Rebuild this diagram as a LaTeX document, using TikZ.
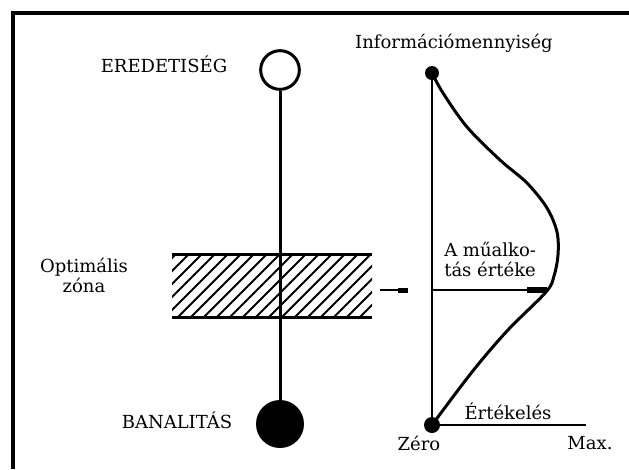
\documentclass[tikz,border=0pt]{standalone}
\usepackage{fontspec}
\setmainfont{DejaVu Serif}
\begin{document}
\begin{tikzpicture}[x=0.75pt,y=-0.75pt,
  lab/.style={font=\fontsize{13.5}{15}\selectfont, inner sep=0pt},
  thickline/.style={line width=2.25pt},
  thinline/.style={line width=1.5pt},
  dotnode/.style={circle, fill=black, inner sep=0pt}]
\useasboundingbox (0,0) rectangle (629,469);
% frame (top and left)
\draw[line width=3pt, line join=miter] (13,469) -- (13,12.5) -- (629,12.5);

% hatched optimal zone
\begin{scope}
  \clip (172,254) rectangle (372,317);
  \foreach \x in {100,113,...,380}
    \draw[line width=1.4pt] (\x,317) -- (\x+63,254);
\end{scope}
\draw[thickline] (172,254) -- (372,254);
\draw[thickline] (172,317) -- (372,317);

% left axis
\node[circle, draw, line width=2.25pt, minimum size=29pt, inner sep=0pt, fill=white] (orig) at (280,70) {};
\node[circle, fill=black, minimum size=36pt, inner sep=0pt] (banal) at (280,424) {};
\draw[thickline] (orig.south) -- (banal.north);

\node[lab] (eredet) at (164,64) {EREDETISÉG};
\node[lab] (banaltxt) at (177,420) {BANALITÁS};
\node[lab, align=center] (optim) at (84,275) {Optimális\\zóna};

% small arrow
\coordinate (sa) at (380,290);
\coordinate (sb) at (408,290);
\draw[thinline] (sa) -- (sb);
\fill (398,287.5) rectangle (408,292.5);

% right diagram
\node[dotnode, minimum size=10.5pt] (top) at (432,73) {};
\node[dotnode, minimum size=12pt] (bot) at (432,425) {};
\draw[thinline] (top.center) -- (bot.center);
\coordinate (c1) at (443,93);
\coordinate (c2) at (467,127);
\coordinate (c3) at (500,160);
\coordinate (c4) at (527,183);
\coordinate (c5) at (547,208);
\coordinate (c6) at (557,232);
\coordinate (c7) at (558,255);
\coordinate (c8) at (554,276);
\coordinate (c9) at (546,292);
\coordinate (c10) at (507,331);
\coordinate (c11) at (472,372);
\draw[thickline, line cap=round] plot[smooth, tension=0.55] coordinates {(top.center) (c1) (c2) (c3) (c4) (c5) (c6) (c7) (c8) (c9) (c10) (c11) (bot.center)};

% value line
\coordinate (vl) at (432,290);
\coordinate (vr) at (546,290);
\draw[thinline] (vl) -- (vr);
\fill (527,287) rectangle (547,293);

% evaluation axis
\coordinate (maxpt) at (586,425);
\draw[thinline] (bot.center) -- (maxpt);

\node[lab] (info) at (454,43) {Információmennyiség};
\node[lab, align=left, anchor=west] (mu) at (444,259) {A műalko-\\tás értéke};
\node[lab] (ertek) at (508,411) {Értékelés};
\node[lab] (zero) at (419,443) {Zéro};
\node[lab] (max) at (590,443) {Max.};
\end{tikzpicture}
\end{document}
